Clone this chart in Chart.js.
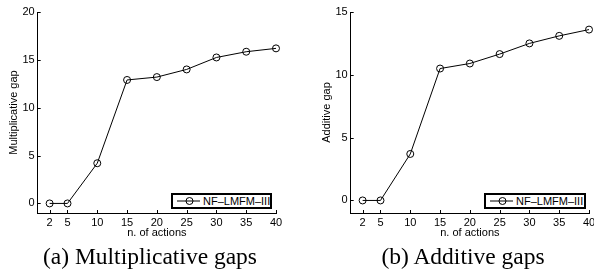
<!DOCTYPE html>
<html><head><meta charset="utf-8">
<script src="https://cdn.jsdelivr.net/npm/chart.js@4"></script>
<style>
html,body{margin:0;padding:0;background:#fff;width:594px;height:274px;overflow:hidden;position:relative}
.wrap{position:absolute;top:0}
.legend{position:absolute;box-sizing:border-box;border:2px solid #000;background:#fff;font:11px "Liberation Sans",Arial,sans-serif;color:#000}
.legend svg{position:absolute;left:4px;top:0}
.legend span{position:absolute;left:30px;top:0;line-height:12px;white-space:nowrap}
.cap{position:absolute;top:245px;font-family:"Liberation Serif","Times New Roman",serif;font-size:23.5px;line-height:23px;white-space:nowrap;text-align:center;color:#000}
</style></head>
<body>
<div class="wrap" style="left:0;width:297px;height:245px"><canvas id="c1" width="297" height="245"></canvas></div>
<div class="wrap" style="left:297px;width:310px;height:245px"><canvas id="c2" width="310" height="245"></canvas></div>

<div class="legend" style="left:171px;top:193px;width:101px;height:16px">
<svg width="26" height="12"><line x1="0" y1="6" x2="23" y2="6" stroke="#000" stroke-width="1"/><circle cx="12.5" cy="6" r="3.5" fill="none" stroke="#000" stroke-width="1"/></svg>
<span>NF–LMFM–III</span></div>
<div class="legend" style="left:484px;top:193px;width:102px;height:16px">
<svg width="26" height="12"><line x1="0" y1="6" x2="23" y2="6" stroke="#000" stroke-width="1"/><circle cx="12.5" cy="6" r="3.5" fill="none" stroke="#000" stroke-width="1"/></svg>
<span>NF–LMFM–III</span></div>

<div class="cap" style="left:0;width:300px">(a) Multiplicative gaps</div>
<div class="cap" style="left:316px;width:294px">(b) Additive gaps</div>

<script>
// ---- data ----
const actions = [2, 5, 10, 15, 20, 25, 30, 35, 40];
const multGap = [0, 0, 4.2, 12.9, 13.2, 14.0, 15.25, 15.85, 16.2];
const addGap  = [0, 0, 3.7, 10.5, 10.9, 11.65, 12.5, 13.1, 13.6];
const xTicks = [2, 5, 10, 15, 20, 25, 30, 35, 40];
const multYTicks = [0, 5, 10, 15, 20];
const addYTicks = [0, 5, 10, 15];
const seriesName = 'NF–LMFM–III';
const xTitle = 'n. of actions';

const font = {family: '"Liberation Sans", Arial, sans-serif', size: 11};

const inwardTicks = {
  id: 'inwardTicks',
  afterDatasetsDraw(chart) {
    const ctx = chart.ctx, a = chart.chartArea;
    const xs = chart.scales.x, ys = chart.scales.y;
    ctx.save();
    ctx.strokeStyle = '#000'; ctx.lineWidth = 1;
    ctx.beginPath();
    xs.ticks.forEach(t => {
      const px = Math.round(xs.getPixelForValue(t.value)) + 0.5;
      ctx.moveTo(px, a.bottom); ctx.lineTo(px, a.bottom - 3);
    });
    ys.ticks.forEach(t => {
      const py = Math.round(ys.getPixelForValue(t.value)) + 0.5;
      ctx.moveTo(a.left, py); ctx.lineTo(a.left + 3, py);
    });
    ctx.stroke();
    ctx.restore();
  }
};

function makeChart(id, yData, yTicks, yMin, yMax, yTitle, yTitlePad, yWidth, padRight) {
  return new Chart(document.getElementById(id), {
    type: 'line',
    data: {
      datasets: [{
        label: seriesName,
        data: actions.map((x, i) => ({x: x, y: yData[i]})),
        borderColor: '#000', borderWidth: 1,
        pointRadius: 3.5, pointBorderWidth: 1,
        pointBorderColor: '#000', pointBackgroundColor: 'rgba(0,0,0,0)',
        tension: 0, clip: false
      }]
    },
    options: {
      responsive: false, animation: false, events: [],
      layout: {padding: {top: 12, right: padRight, left: 0, bottom: 0}},
      plugins: {legend: {display: false}, tooltip: {enabled: false}},
      scales: {
        x: {
          type: 'linear', min: 0, max: 40,
          afterBuildTicks: s => { s.ticks = xTicks.map(v => ({value: v})); },
          afterFit: s => { s.height = 32; },
          grid: {display: false, drawTicks: false, tickLength: 0},
          border: {display: true, color: '#000', width: 1},
          ticks: {color: '#000', font: font, padding: 3, autoSkip: false, maxRotation: 0, callback: v => String(v)},
          title: {display: true, text: xTitle, color: '#000', font: font, padding: {top: 0, bottom: 5.4}}
        },
        y: {
          type: 'linear', min: yMin, max: yMax,
          afterBuildTicks: s => { s.ticks = yTicks.map(v => ({value: v})); },
          afterFit: s => { s.width = yWidth; },
          grid: {display: false, drawTicks: false, tickLength: 0},
          border: {display: true, color: '#000', width: 1},
          ticks: {color: '#000', font: font, padding: 3, callback: v => String(v)},
          title: {display: true, text: yTitle, color: '#000', font: font, padding: {top: yTitlePad, bottom: 0}}
        }
      }
    },
    plugins: [inwardTicks]
  });
}

makeChart('c1', multGap, multYTicks, -1, 20, 'Multiplicative gap', 6.9, 37.7, 21);
makeChart('c2', addGap, addYTicks, -1, 15, 'Additive gap', 23.4, 53.7, 18);
</script>
</body></html>
